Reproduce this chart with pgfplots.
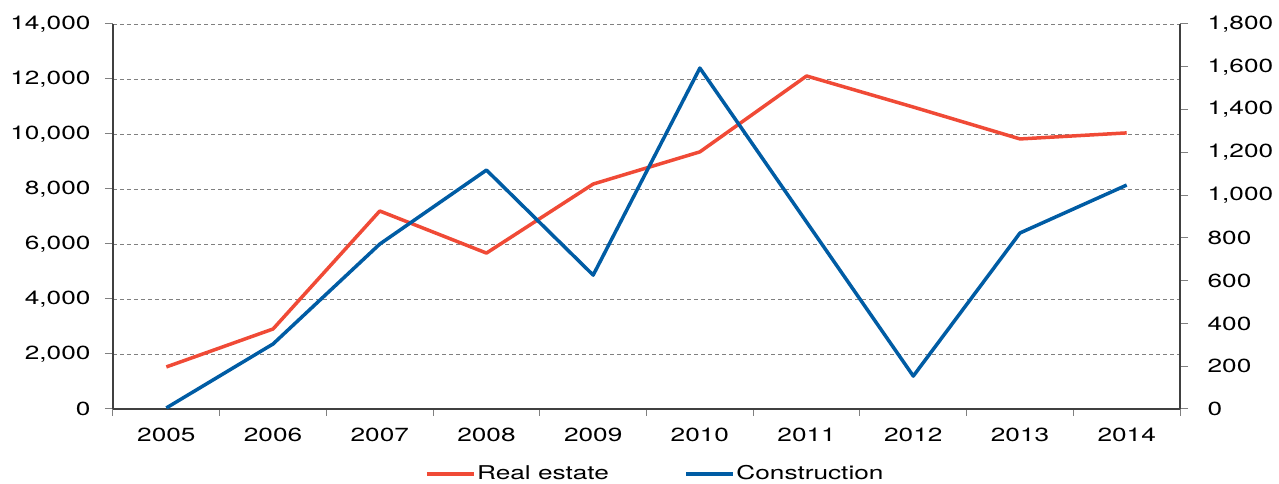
\documentclass[border=0pt]{standalone}
\usepackage{pgfplots}
\pgfplotsset{compat=1.18}
\usepackage{fontspec}
\setmainfont[FakeStretch=1.38]{TeX Gyre Heros}
\definecolor{reCol}{RGB}{240,74,54}
\definecolor{coCol}{RGB}{0,92,164}
\definecolor{axGray}{RGB}{64,64,64}
\definecolor{gridGray}{RGB}{128,128,128}
\begin{document}
\fontsize{19}{22}\selectfont
\begin{tikzpicture}
\useasboundingbox (-113pt,-75pt) rectangle (1166pt,409pt);
\pgfplotsset{
  common/.style={
    scale only axis, width=1067pt, height=385pt,
    xmin=-0.5, xmax=9.5,
    scaled y ticks=false,
    tick align=outside,
    major tick length=8pt,
    minor tick length=7pt,
    axis line style={axGray, line width=1.2pt},
    tick style={gridGray, line width=1pt},
    tick label style={font=\fontsize{19}{22}\selectfont},
    /pgf/number format/.cd, 1000 sep={,}, assume math mode=true,
  },
}
\begin{axis}[common,
  axis x line*=bottom, axis y line*=left,
  ymin=0, ymax=14000, ytick={0,2000,...,14000},
  xtick={0,...,9},
  xticklabels={2005,2006,2007,2008,2009,2010,2011,2012,2013,2014},
  major x tick style={draw=none},
  minor xtick={-0.5,0.5,...,9.5},
  ymajorgrids,
  grid style={gridGray, line width=0.9pt, dash pattern=on 4pt off 3pt},
  xticklabel style={yshift=-4pt},
  yticklabel style={xshift=-8pt},
]
\addplot[reCol, line width=3.5pt, line join=round] coordinates {
 (0,1530) (1,2910) (2,7200) (3,5670) (4,8180) (5,9350) (6,12110) (7,10980) (8,9820) (9,10040)
};
\end{axis}
\begin{axis}[common,
  axis y line*=right, axis x line=none,
  ymin=0, ymax=1800, ytick={0,200,...,1800},
  yticklabel style={xshift=13pt},
  legend columns=2,
  legend style={at={(0.508,-0.169)}, anchor=center, draw=none, fill=none,
    font=\fontsize{19}{22}\selectfont,
    /tikz/every even column/.append style={column sep=74pt},
    nodes={inner sep=1.5pt}},
  legend image code/.code={\draw[#1] (0pt,0pt) -- (47pt,0pt);},
]
\addlegendimage{reCol, line width=3.5pt}
\addlegendentry{Real estate}
\addplot[coCol, line width=3.5pt, line join=round] coordinates {
 (0,5) (1,304) (2,771) (3,1117) (4,626) (5,1594) (6,874) (7,154) (8,823) (9,1047)
};
\addlegendentry{Construction}
\end{axis}
\end{tikzpicture}
\end{document}
